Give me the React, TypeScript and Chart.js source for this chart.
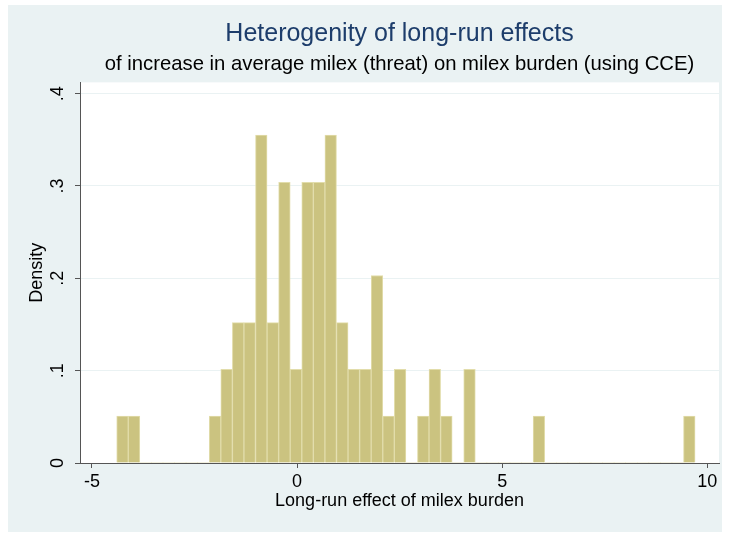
import React, { useEffect, useRef } from 'react';
import { Chart, registerables } from 'chart.js';

Chart.register(...registerables);

// Histogram bins: lower edge of first bin and bin width
const binStart = -4.398;
const binWidth = 0.282;
// Density of each of the 50 bins
const densities = [
  0.0507, 0.0507, 0, 0, 0, 0, 0, 0,
  0.0507, 0.1014, 0.152, 0.152, 0.355, 0.152, 0.304, 0.1014, 0.304, 0.304, 0.355, 0.152,
  0.1014, 0.1014, 0.203, 0.0507, 0.1014, 0, 0.0507, 0.1014, 0.0507, 0, 0.1014,
  0, 0, 0, 0, 0, 0.0507,
  0, 0, 0, 0, 0, 0, 0, 0, 0, 0, 0, 0, 0.0507,
];

const titleText = 'Heterogenity of long-run effects';
const subtitleText = 'of increase in average milex (threat) on milex burden (using CCE)';
const xTitle = 'Long-run effect of milex burden';
const yTitle = 'Density';

const xMin = -5.2925;
const xMax = 10.285;
const yMin = 0;
const yMax = 0.4122;
const xStep = 5;
const yStep = 0.1;

const FONT = "'Liberation Sans', Arial, Helvetica, sans-serif";
const PANEL = '#EAF2F3';
const AXIS = '#555555';

const bgPlugin = {
  id: 'statabg',
  beforeDraw(chart: any) {
    const { ctx, chartArea, width, height } = chart;
    ctx.save();
    ctx.fillStyle = '#ffffff';
    ctx.fillRect(0, 0, width, height);
    ctx.fillStyle = PANEL;
    ctx.fillRect(8, 5, 714, height - 6);
    ctx.fillStyle = '#ffffff';
    ctx.fillRect(chartArea.left, chartArea.top, chartArea.right - chartArea.left, chartArea.bottom - chartArea.top);
    ctx.restore();
  },
};

export default function App() {
  const ref = useRef<HTMLCanvasElement | null>(null);

  useEffect(() => {
    if (!ref.current) return;
    const points = densities.map((d, i) => ({ x: binStart + binWidth * (i + 0.5), y: d }));
    const chart = new Chart(ref.current, {
      type: 'bar',
      data: {
        datasets: [
          {
            data: points as any,
            backgroundColor: '#CBC380',
            borderColor: '#E2DDAB',
            borderWidth: (c: any) => (c.raw && c.raw.y > 0 ? 1 : 0),
            borderSkipped: 'start',
            barPercentage: 1,
            categoryPercentage: 1,
          },
        ],
      },
      options: {
        animation: false,
        responsive: false,
        devicePixelRatio: 1,
        layout: { padding: { left: 0, right: 10, top: 0, bottom: 21 } },
        plugins: {
          legend: { display: false },
          tooltip: { enabled: false },
          title: {
            display: true,
            text: titleText,
            fullSize: false,
            color: '#1D3D6B',
            font: { family: FONT, size: 25, weight: 'normal', lineHeight: 1.2 },
            padding: { top: 19, bottom: 0 },
          },
          subtitle: {
            display: true,
            text: subtitleText,
            fullSize: false,
            color: '#000000',
            font: { family: FONT, size: 20.3, weight: 'normal', lineHeight: 1.2 },
            padding: { top: 3, bottom: 6 },
          },
        },
        scales: {
          x: {
            type: 'linear',
            min: xMin,
            max: xMax,
            offset: false,
            afterFit: (s: any) => {
              s.height = 49;
            },
            ticks: {
              stepSize: xStep,
              includeBounds: false,
              color: '#000',
              font: { family: FONT, size: 18 },
              padding: 3,
              maxRotation: 0,
              autoSkip: false,
            },
            grid: {
              offset: false,
              drawOnChartArea: false,
              drawTicks: true,
              tickLength: 5,
              tickColor: AXIS,
              color: AXIS,
            },
            border: { display: true, color: AXIS, width: 1 },
            title: {
              display: true,
              text: xTitle,
              color: '#000',
              font: { family: FONT, size: 18, lineHeight: 1.2 },
              padding: { top: 0, bottom: 0 },
            },
          },
          y: {
            type: 'linear',
            min: yMin,
            max: yMax,
            afterFit: (s: any) => {
              s.width = 80;
            },
            ticks: {
              stepSize: yStep,
              includeBounds: false,
              color: '#000',
              font: { family: FONT, size: 18 },
              padding: 9,
              minRotation: 90,
              maxRotation: 90,
              crossAlign: 'center',
              callback: (v: any) => {
                const r = Math.round(Number(v) * 10) / 10;
                return r === 0 ? '0' : String(r).replace(/^0\./, '.');
              },
            },
            grid: {
              color: (c: any) => (c.tick && c.tick.value === 0 ? 'rgba(0,0,0,0)' : PANEL),
              lineWidth: 1,
              drawTicks: true,
              tickLength: 5,
              tickColor: AXIS,
            },
            border: { display: true, color: AXIS, width: 1 },
            title: {
              display: true,
              text: yTitle,
              color: '#000',
              font: { family: FONT, size: 18, lineHeight: 1.2 },
              padding: { top: 26, bottom: 0 },
            },
          },
        },
      },
      plugins: [bgPlugin],
    } as any);
    return () => chart.destroy();
  }, []);

  return (
    <div style={{ position: 'fixed', left: 0, top: 0, width: 729, height: 533, background: '#fff' }}>
      <canvas ref={ref} width={729} height={533} style={{ display: 'block', width: 729, height: 533 }} />
    </div>
  );
}
